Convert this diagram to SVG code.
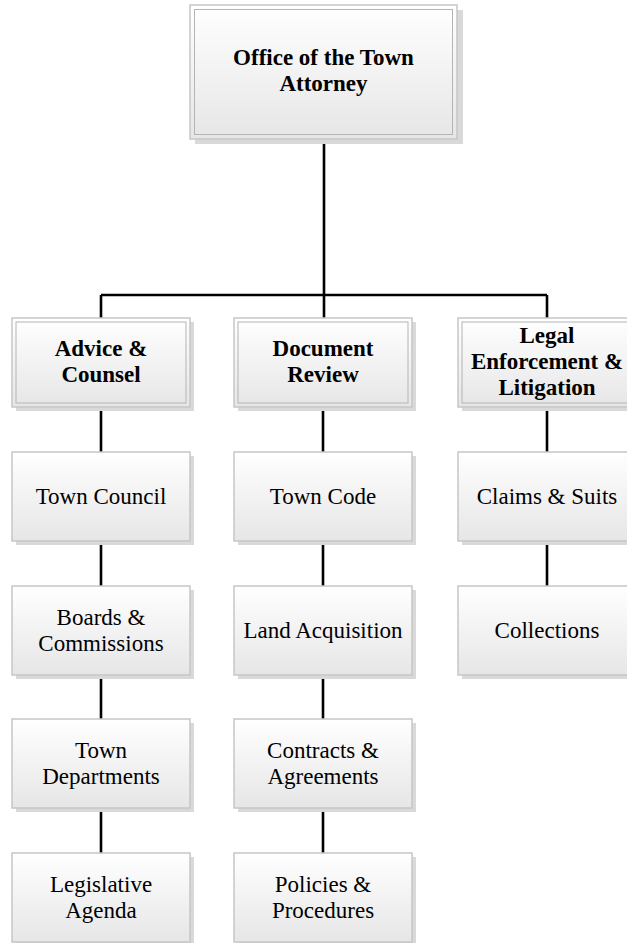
<svg xmlns="http://www.w3.org/2000/svg" width="627" height="943" viewBox="0 0 627 943">
<defs>
<linearGradient id="g" x1="0" y1="0" x2="0" y2="1">
<stop offset="0" stop-color="#ffffff"/>
<stop offset="1" stop-color="#e6e6e6"/>
</linearGradient>
</defs>
<style>
.sh{fill:#d9d9d9}
.bx{fill:url(#g);stroke:#c6c6c6;stroke-width:1.5}
.in{fill:none;stroke:#b4b4b4;stroke-width:1}
.t{font-family:"Liberation Serif","DejaVu Serif",serif;font-size:23px;fill:#000;text-anchor:middle}
.b{font-weight:bold}
.c{stroke:#000;stroke-width:2.6;fill:none}
</style>
<rect width="627" height="943" fill="#fff"/>
<g id="connectors">
<path class="c" d="M324 139V295M101 295H547M101 295V318M547 295V318M324 295V318"/>
<path class="c" d="M101 407V452M101 541V586M101 675V719M101 808V853"/>
<path class="c" d="M323 407V452M323 541V586M323 675V719M323 808V853"/>
<path class="c" d="M547 407V452M547 541V586"/>
</g>
<g id="office">
<rect class="sh" x="195" y="10" width="268" height="134"/>
<rect class="bx" x="190" y="5" width="267" height="134"/>
<rect class="in" x="194.5" y="9.5" width="258" height="125"/>
<text class="t b" x="323.5" y="65">Office of the Town</text>
<text class="t b" x="323.5" y="91">Attorney</text>
</g>
<g id="advice">
<rect class="sh" x="16" y="322" width="178" height="89"/>
<rect class="bx" x="12" y="318" width="178" height="89"/>
<rect class="in" x="16" y="322" width="170" height="81"/>
<text class="t b" x="101" y="356">Advice &amp;</text>
<text class="t b" x="101" y="382">Counsel</text>
</g>
<g id="document">
<rect class="sh" x="238" y="322" width="178" height="89"/>
<rect class="bx" x="234" y="318" width="178" height="89"/>
<rect class="in" x="238" y="322" width="170" height="81"/>
<text class="t b" x="323" y="356">Document</text>
<text class="t b" x="323" y="382">Review</text>
</g>
<g id="legal">
<rect class="sh" x="462" y="322" width="178" height="89"/>
<rect class="bx" x="458" y="318" width="178" height="89"/>
<rect class="in" x="462" y="322" width="170" height="81"/>
<text class="t b" x="547" y="343">Legal</text>
<text class="t b" x="547" y="369">Enforcement &amp;</text>
<text class="t b" x="547" y="395">Litigation</text>
</g>
<g id="town-council">
<rect class="sh" x="16" y="456" width="178" height="89"/>
<rect class="bx" x="12" y="452" width="178" height="89"/>
<text class="t" x="101" y="504">Town Council</text>
</g>
<g id="boards">
<rect class="sh" x="16" y="590" width="178" height="89"/>
<rect class="bx" x="12" y="586" width="178" height="89"/>
<text class="t" x="101" y="624.5">Boards &amp;</text>
<text class="t" x="101" y="650.5">Commissions</text>
</g>
<g id="town-departments">
<rect class="sh" x="16" y="723" width="178" height="89"/>
<rect class="bx" x="12" y="719" width="178" height="89"/>
<text class="t" x="101" y="757.5">Town</text>
<text class="t" x="101" y="783.5">Departments</text>
</g>
<g id="legislative">
<rect class="sh" x="16" y="857" width="178" height="89"/>
<rect class="bx" x="12" y="853" width="178" height="89"/>
<text class="t" x="101" y="891.5">Legislative</text>
<text class="t" x="101" y="917.5">Agenda</text>
</g>
<g id="town-code">
<rect class="sh" x="238" y="456" width="178" height="89"/>
<rect class="bx" x="234" y="452" width="178" height="89"/>
<text class="t" x="323" y="504">Town Code</text>
</g>
<g id="land">
<rect class="sh" x="238" y="590" width="178" height="89"/>
<rect class="bx" x="234" y="586" width="178" height="89"/>
<text class="t" x="323" y="637.5">Land Acquisition</text>
</g>
<g id="contracts">
<rect class="sh" x="238" y="723" width="178" height="89"/>
<rect class="bx" x="234" y="719" width="178" height="89"/>
<text class="t" x="323" y="757.5">Contracts &amp;</text>
<text class="t" x="323" y="783.5">Agreements</text>
</g>
<g id="policies">
<rect class="sh" x="238" y="857" width="178" height="89"/>
<rect class="bx" x="234" y="853" width="178" height="89"/>
<text class="t" x="323" y="891.5">Policies &amp;</text>
<text class="t" x="323" y="917.5">Procedures</text>
</g>
<g id="claims">
<rect class="sh" x="462" y="456" width="178" height="89"/>
<rect class="bx" x="458" y="452" width="178" height="89"/>
<text class="t" x="547" y="504">Claims &amp; Suits</text>
</g>
<g id="collections">
<rect class="sh" x="462" y="590" width="178" height="89"/>
<rect class="bx" x="458" y="586" width="178" height="89"/>
<text class="t" x="547" y="637.5">Collections</text>
</g>
</svg>
